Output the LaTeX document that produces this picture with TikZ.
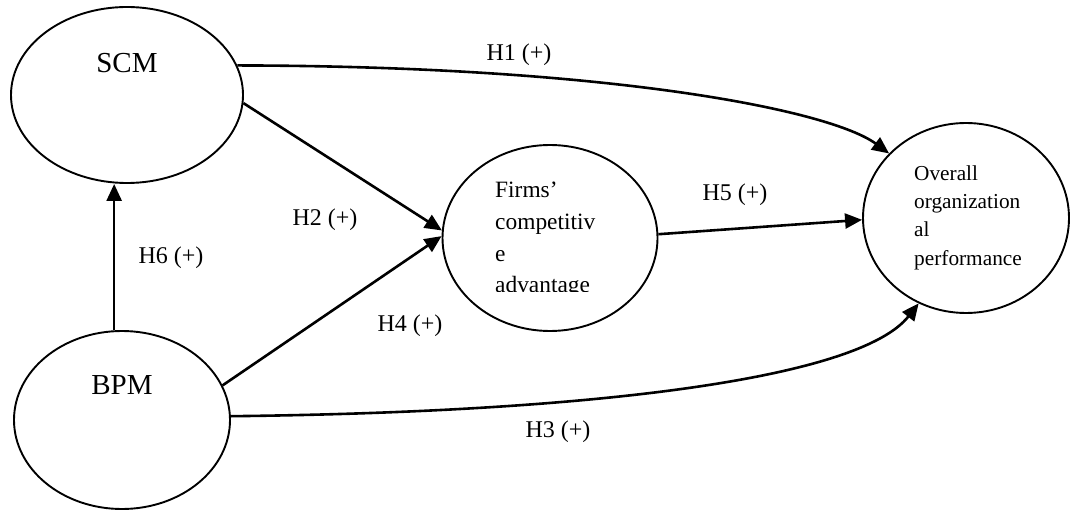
\documentclass[tikz,border=0pt]{standalone}
\usepackage{fontspec}
\setmainfont{Liberation Serif}
\usetikzlibrary{shapes.geometric,arrows.meta}
\begin{document}
\begin{tikzpicture}[x=1pt,y=-1pt,
  ell/.style={draw, ellipse, line width=1.9pt, inner sep=0pt},
  conn/.style={line width=2.6pt, -{Triangle[length=17pt,width=15pt]}},
  lab/.style={font=\fontsize{24}{28}\selectfont, inner sep=0pt},
  bigtxt/.style={font=\fontsize{29}{34}\selectfont, inner sep=0pt},
  ftxt/.style={font=\fontsize{23.4}{31}\selectfont, anchor=base west, inner sep=0pt},
  otxt/.style={font=\fontsize{21.3}{28}\selectfont, anchor=base west, inner sep=0pt}]
\useasboundingbox (0,0) rectangle (1070,510);
% ellipses
\node[ell, minimum width=232pt, minimum height=176pt] (scm) at (127,95) {};
\node[ell, minimum width=216pt, minimum height=178pt] (bpm) at (122,420) {};
\node[ell, minimum width=215pt, minimum height=186pt] (fca) at (550,238) {};
\node[ell, minimum width=206pt, minimum height=190pt] (oop) at (966,218) {};
% texts inside
\node[bigtxt] (scmt) at (127,63) {SCM};
\node[bigtxt] (bpmt) at (122,385) {BPM};
\node[ftxt] (f1) at (495,198) {Firms’};
\node[ftxt] (f2) at (495,230) {competitiv};
\node[ftxt] (f3) at (495,262) {e};
\begin{scope}
\clip (480,266) rectangle (650,291.5);
\node[ftxt] (f4) at (495,293) {advantage};
\end{scope}
\node[otxt] (o1) at (914,181) {Overall};
\node[otxt] (o2) at (914,209) {organization};
\node[otxt] (o3) at (914,237) {al};
\node[otxt] (o4) at (914,266) {performance};
% connectors
\draw[conn] (bpm.95) -- (bpm.95 |- scm.south);
\draw[conn] (scm.-4.4) -- (fca.176);
\draw[conn] (bpm.19) -- (fca.179);
\draw[conn] (fca.2.6) -- (oop.181);
\draw[conn] (scm.15) .. controls (610,66) and (830,110) .. (oop.140);
\draw[conn] (bpm.2) .. controls (600,412) and (860,378) .. (oop.241);
% labels
\node[lab] (h1) at (519,55) {H1 (+)};
\node[lab] (h2) at (325,220) {H2 (+)};
\node[lab] (h3) at (558,432) {H3 (+)};
\node[lab] (h4) at (410,326) {H4 (+)};
\node[lab] (h5) at (735,195) {H5 (+)};
\node[lab] (h6) at (171,258) {H6 (+)};
\end{tikzpicture}
\end{document}
